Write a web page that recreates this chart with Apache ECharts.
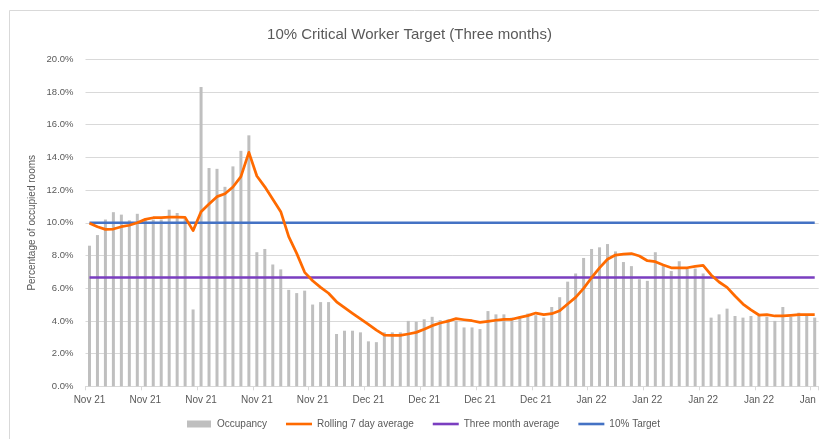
<!DOCTYPE html>
<html>
<head>
<meta charset="utf-8">
<script src="https://cdn.jsdelivr.net/npm/echarts@6/dist/echarts.min.js"></script>
<style>
html,body{margin:0;padding:0;background:#fff;}
#chart{width:819px;height:439px;}
</style>
</head>
<body>
<div id="chart"></div>
<script>
const chartTitle = '10% Critical Worker Target (Three months)';
const yAxisTitle = 'Percentage of occupied rooms';
const seriesNames = ['Occupancy', 'Rolling 7 day average', 'Three month average', '10% Target'];

const dates = [
'2021-11-01','2021-11-02','2021-11-03','2021-11-04','2021-11-05','2021-11-06','2021-11-07','2021-11-08','2021-11-09','2021-11-10',
'2021-11-11','2021-11-12','2021-11-13','2021-11-14','2021-11-15','2021-11-16','2021-11-17','2021-11-18','2021-11-19','2021-11-20',
'2021-11-21','2021-11-22','2021-11-23','2021-11-24','2021-11-25','2021-11-26','2021-11-27','2021-11-28','2021-11-29','2021-11-30',
'2021-12-01','2021-12-02','2021-12-03','2021-12-04','2021-12-05','2021-12-06','2021-12-07','2021-12-08','2021-12-09','2021-12-10',
'2021-12-11','2021-12-12','2021-12-13','2021-12-14','2021-12-15','2021-12-16','2021-12-17','2021-12-18','2021-12-19','2021-12-20',
'2021-12-21','2021-12-22','2021-12-23','2021-12-24','2021-12-25','2021-12-26','2021-12-27','2021-12-28','2021-12-29','2021-12-30',
'2021-12-31','2022-01-01','2022-01-02','2022-01-03','2022-01-04','2022-01-05','2022-01-06','2022-01-07','2022-01-08','2022-01-09',
'2022-01-10','2022-01-11','2022-01-12','2022-01-13','2022-01-14','2022-01-15','2022-01-16','2022-01-17','2022-01-18','2022-01-19',
'2022-01-20','2022-01-21','2022-01-22','2022-01-23','2022-01-24','2022-01-25','2022-01-26','2022-01-27','2022-01-28','2022-01-29',
'2022-01-30','2022-01-31'];

const monthNames = ['Jan','Feb','Mar','Apr','May','Jun','Jul','Aug','Sep','Oct','Nov','Dec'];

const occupancy = [
8.6, 9.25, 10.2, 10.65, 10.5, 10.15, 10.55, 10.2, 10.2, 10.2,
10.8, 10.6, 10.25, 4.7, 18.3, 13.35, 13.3, 12.2, 13.45, 14.4,
15.35, 8.2, 8.4, 7.45, 7.15, 5.9, 5.7, 5.85, 5.0, 5.15,
5.15, 3.2, 3.4, 3.4, 3.3, 2.75, 2.7, 3.3, 3.3, 3.3,
4.0, 3.95, 4.1, 4.25, 4.05, 4.1, 4.0, 3.6, 3.6, 3.5,
4.6, 4.4, 4.4, 4.2, 4.25, 4.45, 4.35, 4.2, 4.85, 5.45,
6.4, 6.9, 7.85, 8.4, 8.5, 8.7, 8.25, 7.6, 7.35, 6.55,
6.45, 8.2, 7.35, 7.05, 7.65, 7.2, 7.2, 6.9, 4.2, 4.4,
4.75, 4.3, 4.2, 4.3, 4.3, 4.25, 4.0, 4.85, 4.25, 4.5,
4.3, 4.2];

const rolling7 = [
9.97, 9.76, 9.6, 9.62, 9.76, 9.85, 10.0, 10.21, 10.31, 10.31,
10.35, 10.35, 10.33, 9.52, 10.68, 11.15, 11.6, 11.78, 12.19, 12.82,
14.31, 12.86, 12.2, 11.44, 10.68, 9.15, 8.13, 6.97, 6.46, 6.05,
5.69, 5.17, 4.81, 4.46, 4.12, 3.79, 3.44, 3.13, 3.11, 3.11,
3.2, 3.3, 3.49, 3.71, 3.87, 3.99, 4.14, 4.07, 4.01, 3.91,
3.97, 4.04, 4.1, 4.1, 4.22, 4.32, 4.48, 4.38, 4.44, 4.62,
5.03, 5.44, 5.99, 6.64, 7.24, 7.77, 8.03, 8.08, 8.12, 7.97,
7.68, 7.62, 7.42, 7.25, 7.25, 7.25, 7.34, 7.4, 6.81, 6.38,
6.05, 5.52, 5.03, 4.67, 4.36, 4.38, 4.3, 4.3, 4.34, 4.38,
4.38, 4.38];

const threeMonthAverage = 6.65;
const targetValue = 10;

const yTicks = [0, 2, 4, 6, 8, 10, 12, 14, 16, 18, 20];

const threeMonthSeries = dates.map(() => threeMonthAverage);
const targetSeries = dates.map(() => targetValue);

const font = 'Liberation Sans, Arial, sans-serif';
const textColor = '#595959';
const barIcon = 'path://M0 0H24V7H0Z';
const lineIcon = 'path://M0 0H26V2.6H0Z';

const chart = echarts.init(document.getElementById('chart'), null, {renderer: 'canvas'});
chart.setOption({
  animation: false,
  backgroundColor: '#ffffff',
  title: {
    text: chartTitle,
    left: 'center',
    top: 22,
    textStyle: {fontFamily: font, fontSize: 15, fontWeight: 'normal', color: textColor}
  },
  graphic: [{
    type: 'rect',
    shape: {x: 9.5, y: 10.5, width: 830, height: 440},
    style: {fill: 'none', stroke: '#D9D9D9', lineWidth: 1},
    silent: true, z: -1
  }],
  legend: {
    bottom: 5,
    left: 182,
    itemWidth: 26,
    itemHeight: 7,
    itemGap: 19,
    symbolKeepAspect: true,
    textStyle: {fontFamily: font, fontSize: 10, color: textColor},
    data: [
      {name: seriesNames[0], icon: barIcon},
      {name: seriesNames[1], icon: lineIcon},
      {name: seriesNames[2], icon: lineIcon},
      {name: seriesNames[3], icon: lineIcon}
    ]
  },
  grid: {left: 85.5, right: 0.3, top: 59.3, bottom: 52.7, containLabel: false, outerBoundsMode: 'none'},
  xAxis: {
    type: 'category',
    data: dates,
    boundaryGap: true,
    axisLine: {lineStyle: {color: '#D9D9D9', width: 1}},
    axisTick: {show: true, interval: 6, length: 4, lineStyle: {color: '#D9D9D9'}},
    axisLabel: {
      interval: 6,
      margin: 9,
      hideOverlap: false,
      fontFamily: font, fontSize: 10, color: textColor,
      formatter: function (v) {
        const p = v.split('-');
        return monthNames[parseInt(p[1], 10) - 1] + ' ' + p[0].slice(2);
      }
    },
    splitLine: {show: false}
  },
  yAxis: {
    type: 'value',
    min: yTicks[0],
    max: yTicks[yTicks.length - 1],
    interval: 2,
    name: yAxisTitle,
    nameLocation: 'middle',
    nameGap: 48,
    nameMoveOverlap: false,
    nameTextStyle: {fontFamily: font, fontSize: 10, color: textColor},
    axisLine: {show: false},
    axisTick: {show: false},
    axisLabel: {
      margin: 12,
      fontFamily: font, fontSize: 9.5, color: textColor,
      formatter: function (v) { return v.toFixed(1) + '%'; }
    },
    splitLine: {lineStyle: {color: '#D9D9D9', width: 1}}
  },
  series: [
    {
      name: seriesNames[0],
      type: 'bar',
      data: occupancy,
      barWidth: 3,
      itemStyle: {color: '#BFBFBF'},
      z: 1
    },
    {
      name: seriesNames[2],
      type: 'line',
      data: threeMonthSeries,
      symbol: 'none',
      lineStyle: {color: '#7A3EC0', width: 2.5},
      itemStyle: {color: '#7A3EC0'},
      z: 2
    },
    {
      name: seriesNames[3],
      type: 'line',
      data: targetSeries,
      symbol: 'none',
      lineStyle: {color: '#4472C4', width: 2.5},
      itemStyle: {color: '#4472C4'},
      z: 3
    },
    {
      name: seriesNames[1],
      type: 'line',
      data: rolling7,
      symbol: 'none',
      lineStyle: {color: '#FF6A00', width: 2.75, join: 'round'},
      itemStyle: {color: '#FF6A00'},
      z: 4
    }
  ]
});
</script>
</body>
</html>
